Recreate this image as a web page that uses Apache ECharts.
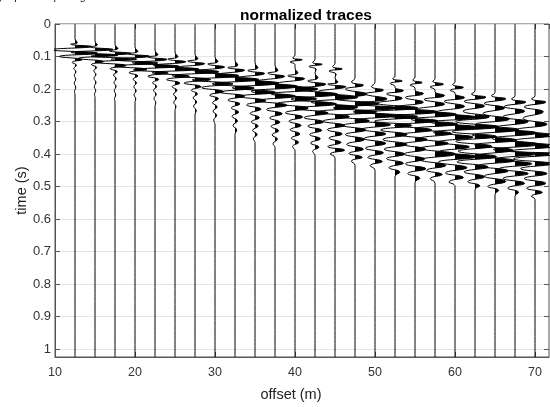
<!DOCTYPE html>
<html><head><meta charset="utf-8">
<script src="https://cdn.jsdelivr.net/npm/echarts@6/dist/echarts.min.js"></script>
<style>html,body{margin:0;padding:0;background:#fff}#c{width:550px;height:407px}</style>
</head><body><div id="c"></div>
<script>
// geophone offsets (m)
const offsets = [12.5,15,17.5,20,22.5,25,27.5,30,32.5,35,37.5,40,42.5,45,47.5,50,52.5,55,57.5,60,62.5,65,67.5,70];
const yTickLabels = ['0','0.1','0.2','0.3','0.4','0.5','0.6','0.7','0.8','0.9','1'];
const nSamples = 1025; // time samples 0..1.024 s, 1 ms
// per trace: flat list of [time (ms), normalized amplitude] nodes
const trace01 = [45,0, 57,0.1, 62,-0.18, 69,0.7, 79,-1.0, 90,0.95, 100,-0.65, 110,0.3, 118,-0.12, 127,0.06, 137,-0.05, 147,0.04, 158,-0.03, 170,0.03, 182,-0.03, 195,0.03, 207,-0.02, 218,0];
const trace02 = [52,0, 64,0.1, 70,-0.2, 78,0.75, 87,-1.0, 96,0.95, 106,-0.7, 116,0.35, 125,-0.15, 134,0.07, 144,-0.05, 155,0.04, 167,-0.04, 180,0.04, 193,-0.03, 205,0.03, 216,-0.02, 226,0];
const trace03 = [62,0, 75,0.12, 82,-0.25, 90,0.65, 99,-1.0, 108,0.9, 118,-0.8, 128,0.45, 138,-0.2, 147,0.1, 157,-0.06, 168,0.05, 180,-0.04, 192,0.04, 205,-0.03, 218,0.03, 230,-0.02, 240,0];
const trace04 = [70,0, 84,0.12, 91,-0.3, 99,0.6, 109,-1.0, 120,0.95, 130,-0.85, 140,0.5, 150,-0.25, 160,0.12, 170,-0.08, 181,0.06, 193,-0.05, 205,0.05, 218,-0.04, 230,0.03, 242,0];
const trace05 = [80,0, 94,0.12, 101,-0.3, 109,0.5, 119,-0.95, 130,1.0, 141,-0.9, 151,0.55, 161,-0.3, 171,0.15, 181,-0.1, 192,0.07, 204,-0.06, 216,0.05, 229,-0.04, 242,0.03, 255,0];
const trace06 = [86,0, 100,0.12, 108,-0.3, 116,0.45, 127,-0.9, 139,1.0, 150,-0.95, 161,0.6, 171,-0.35, 182,0.2, 193,-0.12, 204,0.08, 216,-0.06, 228,0.06, 241,-0.05, 254,0.04, 266,0];
const trace07 = [92,0, 106,0.12, 114,-0.3, 122,0.4, 134,-0.85, 147,1.0, 159,-0.95, 171,0.65, 182,-0.45, 193,0.25, 204,-0.15, 215,0.1, 227,-0.08, 240,0.07, 253,-0.06, 266,0.05, 280,0];
const trace08 = [100,0, 115,0.12, 123,-0.3, 132,0.4, 145,-0.85, 159,1.0, 172,-0.95, 184,0.75, 196,-0.55, 208,0.35, 219,-0.22, 230,0.14, 242,-0.1, 255,0.09, 268,-0.08, 281,0.07, 295,-0.05, 310,0];
const trace09 = [110,0, 126,0.12, 134,-0.3, 142,0.4, 156,-0.8, 171,1.0, 184,-0.95, 197,0.8, 210,-0.6, 222,0.4, 234,-0.3, 246,0.2, 258,-0.15, 271,0.15, 284,-0.12, 298,0.1, 312,-0.08, 326,0.07, 340,0];
const trace10 = [118,0, 134,0.12, 143,-0.3, 152,0.4, 166,-0.8, 182,1.0, 196,-0.95, 210,0.85, 223,-0.65, 236,0.45, 249,-0.35, 262,0.25, 275,-0.2, 288,0.18, 301,-0.15, 314,0.13, 327,-0.1, 340,0.09, 353,-0.07, 365,0];
const trace11 = [126,0, 142,0.12, 151,-0.3, 161,0.4, 176,-0.75, 192,0.95, 207,-1.0, 222,0.85, 236,-0.7, 250,0.5, 263,-0.35, 276,0.3, 289,-0.22, 302,0.2, 315,-0.16, 328,0.15, 341,-0.12, 354,0.1, 368,-0.08, 380,0];
const trace12 = [95,0, 104,-0.1, 110,0.3, 117,-0.2, 125,0, 135,0, 150,0.12, 159,-0.3, 168,0.4, 183,-0.75, 200,0.95, 215,-1.0, 230,0.9, 245,-0.75, 259,0.55, 273,-0.4, 286,0.32, 299,-0.25, 312,0.25, 325,-0.2, 338,0.2, 351,-0.15, 364,0.15, 377,-0.1, 390,0];
const trace13 = [108,0, 118,-0.1, 124,0.3, 131,-0.25, 140,0.05, 150,0, 165,0.12, 175,-0.3, 185,0.45, 200,-0.75, 216,0.95, 231,-1.0, 246,0.9, 260,-0.75, 274,0.55, 288,-0.45, 301,0.35, 314,-0.3, 327,0.28, 340,-0.22, 353,0.22, 366,-0.18, 379,0.16, 392,-0.1, 405,0];
const trace14 = [120,0, 131,-0.1, 138,0.3, 145,-0.25, 155,0.05, 165,0, 178,0.12, 185,-0.3, 193,0.45, 208,-0.7, 225,0.95, 240,-1.0, 256,0.95, 271,-0.75, 285,0.6, 299,-0.5, 312,0.4, 325,-0.32, 338,0.3, 351,-0.25, 364,0.25, 377,-0.3, 388,0.4, 400,-0.2, 412,0];
const trace15 = [165,0, 178,-0.15, 188,0.35, 200,-0.4, 215,0.5, 230,-0.8, 245,1.0, 258,-0.9, 270,0.9, 284,-0.8, 298,0.6, 312,-0.5, 326,0.45, 340,-0.4, 355,0.4, 370,-0.35, 385,0.35, 398,-0.25, 410,0.3, 422,-0.15, 435,0];
const trace16 = [178,0, 192,-0.15, 203,0.35, 215,-0.4, 230,0.5, 245,-0.8, 258,1.0, 270,-0.9, 282,0.9, 296,-0.85, 310,0.65, 324,-0.55, 338,0.45, 352,-0.45, 367,0.45, 382,-0.4, 396,0.35, 410,-0.3, 423,0.3, 436,-0.2, 450,0];
const trace17 = [160,0, 168,-0.1, 175,0.3, 183,-0.2, 192,0, 195,0, 205,0.35, 215,-0.35, 228,0.3, 243,-0.75, 258,0.95, 271,-1.0, 285,0.95, 299,-0.85, 312,0.7, 326,-0.6, 340,0.5, 355,-0.5, 370,0.5, 385,-0.45, 400,0.4, 414,-0.35, 428,0.35, 442,-0.25, 456,0.2, 470,0];
const trace18 = [163,0, 172,-0.1, 180,0.3, 188,-0.2, 197,0, 203,0, 214,0.35, 226,-0.4, 240,0.35, 255,-0.75, 270,0.95, 284,-1.0, 298,0.95, 312,-0.85, 326,0.7, 341,-0.6, 355,0.5, 370,-0.5, 385,0.45, 400,-0.45, 415,0.4, 430,-0.4, 445,0.45, 460,-0.3, 475,0.2, 488,0];
const trace19 = [168,0, 176,-0.1, 185,0.35, 194,-0.2, 203,0, 208,0, 220,0.4, 232,-0.45, 246,0.4, 262,-0.75, 278,0.9, 293,-1.0, 308,0.95, 322,-0.85, 337,0.7, 352,-0.65, 367,0.55, 382,-0.6, 400,0.85, 418,-0.6, 435,0.45, 450,-0.35, 463,0.3, 476,-0.2, 490,0];
const trace20 = [178,0, 186,-0.1, 195,0.35, 204,-0.2, 212,0, 215,0, 226,0.4, 238,-0.45, 253,0.4, 270,-0.75, 287,0.9, 302,-1.0, 318,1.0, 333,-0.9, 348,0.75, 363,-0.7, 378,0.6, 392,-0.65, 408,0.9, 425,-0.7, 442,0.5, 458,-0.4, 472,0.35, 486,-0.25, 500,0];
const trace21 = [205,0, 215,-0.15, 225,0.45, 238,-0.45, 252,0.4, 268,-0.5, 285,0.6, 300,-0.8, 316,1.0, 331,-0.95, 346,0.9, 361,-0.8, 376,0.7, 391,-0.7, 408,0.9, 424,-0.75, 440,0.55, 455,-0.45, 470,0.4, 485,-0.3, 498,0.2, 510,0];
const trace22 = [210,0, 220,-0.15, 230,0.45, 244,-0.45, 258,0.4, 275,-0.5, 292,0.6, 308,-0.8, 325,1.0, 341,-0.95, 357,0.9, 372,-0.85, 388,0.75, 404,-0.7, 420,0.8, 436,-0.7, 452,0.55, 468,-0.45, 484,0.45, 500,-0.3, 512,0.15, 525,0];
const trace23 = [220,0, 230,-0.15, 240,0.45, 254,-0.45, 268,0.4, 285,-0.5, 300,0.55, 318,-0.8, 335,0.9, 352,-0.95, 370,1.0, 386,-0.9, 400,0.85, 415,-0.8, 430,0.7, 445,-0.65, 460,0.55, 475,-0.5, 490,0.4, 505,-0.3, 518,0.15, 530,0];
const trace24 = [220,0, 230,-0.15, 240,0.45, 255,-0.45, 270,0.35, 290,-0.5, 308,0.5, 325,-0.75, 342,0.75, 358,-0.8, 375,0.85, 390,-0.95, 400,1.0, 415,-0.9, 430,0.7, 445,-0.6, 460,0.5, 475,-0.45, 490,0.45, 505,-0.35, 518,0.3, 530,-0.15, 540,0];

const traces = [trace01,trace02,trace03,trace04,trace05,trace06,trace07,trace08,trace09,trace10,trace11,trace12,
                trace13,trace14,trace15,trace16,trace17,trace18,trace19,trace20,trace21,trace22,trace23,trace24];
const ampScale = 3; // metres of deflection per normalized unit

const timeCats = [];
for (let i = 0; i < nSamples; i++) timeCats.push(String(i / 1000));

const series = [];
const visualMaps = [];
traces.forEach((tr, i) => {
  const off = offsets[i];
  const pts = [[off, 0]];
  for (let j = 0; j < tr.length; j += 2) pts.push([off + tr[j + 1] * ampScale, tr[j]]);
  pts.push([off, nSamples - 1]);
  series.push({
    type: 'line', data: pts, smooth: 0.5, symbol: 'none', showSymbol: false,
    lineStyle: { width: 0, opacity: 0 }, areaStyle: { origin: off, opacity: 1 },
    z: 2, silent: true, animation: false
  });
  visualMaps.push({
    type: 'piecewise', show: false, seriesIndex: series.length - 1, dimension: 0,
    pieces: [{ gte: off, lte: off + 10, color: '#000' }],
    outOfRange: { color: 'rgba(0,0,0,0)' }
  });
  series.push({
    type: 'line', data: pts, smooth: 0.5, symbol: 'none', showSymbol: false,
    lineStyle: { color: '#000', width: 1 }, z: 3, silent: true, animation: false
  });
});

const font = 'Liberation Sans, Arial, Helvetica, sans-serif';
const chart = echarts.init(document.getElementById('c'), null, { renderer: 'canvas' });
chart.setOption({
  backgroundColor: '#fff',
  animation: false,
  textStyle: { fontFamily: font },
  title: {
    text: 'normalized traces', left: 301, top: 3, textAlign: 'center',
    textStyle: { fontFamily: font, fontSize: 15.5, fontWeight: 'bold', color: '#000' }
  },
  graphic: [{
    type: 'text', left: -4, top: -9,
    style: { text: 'geophone spacing: 2.5 m', fontFamily: font, fontSize: 11, fill: '#222' }
  }],
  grid: { left: 55, top: 24, width: 494, height: 335, show: true, borderColor: '#555', borderWidth: 1, backgroundColor: '#fff' },
  visualMap: visualMaps,
  xAxis: [{
    type: 'value', min: 10, max: 71.75, interval: 10,
    name: 'offset (m)', nameLocation: 'middle', nameGap: 30, nameMoveOverlap: false,
    nameTextStyle: { fontFamily: font, fontSize: 14.5, color: '#222', padding: [0, 22, 0, 0] },
    axisLine: { show: true, lineStyle: { color: '#555', width: 1 } },
    axisTick: { show: true, inside: true, length: 5, lineStyle: { color: '#555' } },
    axisLabel: { color: '#333', fontSize: 12.5, margin: 9, fontFamily: font, showMaxLabel: false },
    splitLine: { show: false }
  }, {
    type: 'value', position: 'top', min: 10, max: 71.75, interval: 10,
    axisLine: { show: false }, axisLabel: { show: false },
    axisTick: { show: true, inside: true, length: 5, lineStyle: { color: '#555' } },
    splitLine: { show: false }
  }],
  yAxis: [{
    type: 'category', data: timeCats, inverse: true, boundaryGap: false,
    name: 'time (s)', nameLocation: 'middle', nameGap: 26, nameMoveOverlap: false,
    nameTextStyle: { fontFamily: font, fontSize: 14.5, color: '#222' },
    axisLine: { show: true, lineStyle: { color: '#555', width: 1 } },
    axisTick: { show: true, inside: true, length: 5, interval: 99, lineStyle: { color: '#555' } },
    axisLabel: { interval: 99, color: '#333', fontSize: 13, margin: 4, fontFamily: font,
      formatter: (v, idx) => yTickLabels[Math.round(idx / 100)] },
    splitLine: { show: true, interval: 99, lineStyle: { color: '#e4e4e4', width: 1 } }
  }, {
    type: 'category', data: timeCats, inverse: true, boundaryGap: false, position: 'right',
    axisLine: { show: false }, axisLabel: { show: false },
    axisTick: { show: true, inside: true, length: 5, interval: 99, lineStyle: { color: '#555' } },
    splitLine: { show: false }
  }],
  series: series
});
</script>
</body></html>
